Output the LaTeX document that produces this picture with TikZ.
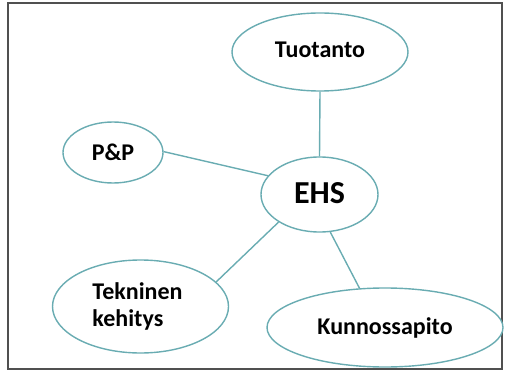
\documentclass[tikz,border=0pt]{standalone}
\usepackage{fontspec}
\setmainfont{Carlito}
\usetikzlibrary{shapes.geometric}
\definecolor{edgeteal}{RGB}{105,172,178}
\definecolor{framegray}{RGB}{80,80,80}
\tikzset{
  bubble/.style={ellipse, draw=edgeteal, line width=1.4pt, inner sep=0pt, fill=white,
    font=\fontsize{24}{27}\selectfont\bfseries, text=black},
  link/.style={draw=edgeteal, line width=1.4pt}
}
\begin{document}
\begin{tikzpicture}[x=1pt,y=-1pt]
\useasboundingbox (0,0) rectangle (505,371);
\draw[framegray, line width=1.6pt] (8,3) rectangle (502,369);
\node[bubble, minimum width=176pt, minimum height=78pt] (tuo) at (320,52) {\raisebox{4pt}{Tuotanto}};
\node[bubble, minimum width=100pt, minimum height=61pt] (pp) at (113,152.5) {P\&P};
\node[bubble, minimum width=117pt, minimum height=75pt, font=\fontsize{32}{36}\selectfont\bfseries] (ehs) at (319.5,194.5) {\raisebox{2pt}{EHS}};
\node[bubble, minimum width=176pt, minimum height=93pt, align=left] (tek) at (140.5,306.5) {\hspace*{-6pt}Tekninen\\\hspace*{-6pt}kehitys};
\node[bubble, minimum width=236pt, minimum height=79pt] (kun) at (385,327.5) {\raisebox{3pt}{Kunnossapito}};
\draw[link] (tuo.south) -- (ehs.north);
\draw[link] (pp.1) -- (ehs.160);
\draw[link] (ehs.214) -- (tek.18);
\draw[link] (ehs.286) -- (kun.123);
\end{tikzpicture}
\end{document}
